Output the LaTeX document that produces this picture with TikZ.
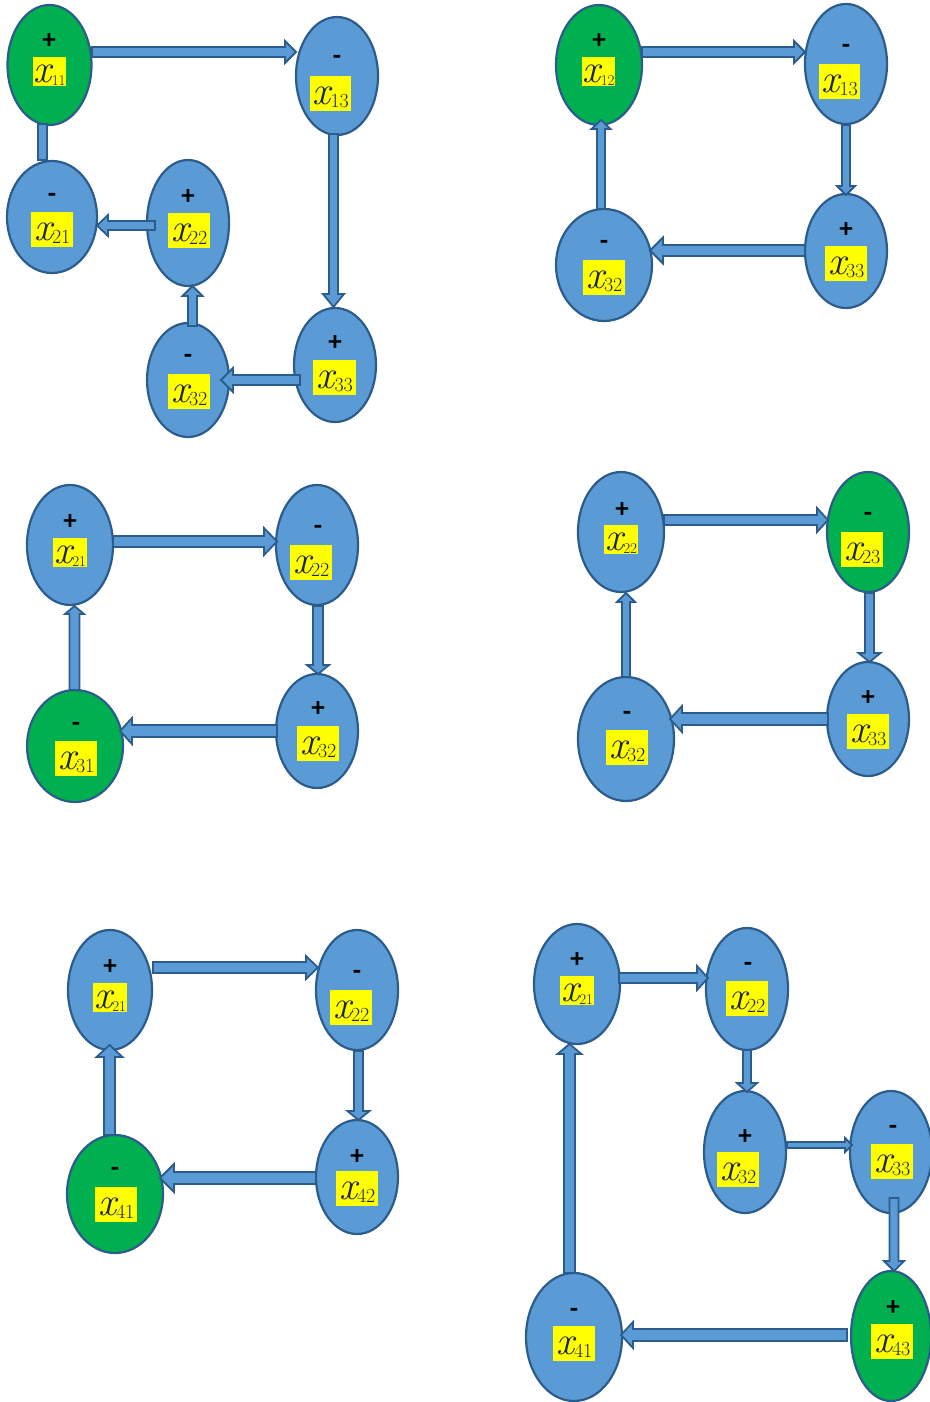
\documentclass[tikz,border=0pt]{standalone}
\usepackage{fontspec}
\usetikzlibrary{calc,shapes.geometric}
\newfontfamily\signfont{Carlito}
\definecolor{ellblue}{HTML}{5B9BD5}
\definecolor{ellgreen}{HTML}{00B050}
\definecolor{edge}{HTML}{2C5C8C}
\definecolor{labyellow}{HTML}{FFFF00}
\definecolor{labtext}{HTML}{1C2548}
\tikzset{
  ell/.style={ellipse, draw=edge, line width=2.2pt, fill=ellblue, inner sep=0pt, outer sep=0pt},
  gell/.style={ell, fill=ellgreen},
  blkarr/.style={draw=edge, fill=ellblue, line width=1.8pt, line join=miter},
  sgn/.style={inner sep=0pt, font=\signfont\bfseries\fontsize{27}{27}\selectfont, text=black},
  labbox/.style={fill=labyellow, inner sep=0pt, text=labtext, anchor=north west},
  labsmall/.style={labbox, text height=25pt, text depth=4pt},
  labbig/.style={labbox, text height=28pt, text depth=7pt}
}
% block arrow: start, end, shaft half width, head half width, head length
\newcommand\blkarrow[5]{%
  \filldraw[blkarr] let \p1=#1, \p2=#2,
    \n1={veclen(\x2-\x1,\y2-\y1)}, \n2={atan2(\y2-\y1,\x2-\x1)} in
    [shift={(\p1)}, rotate=\n2]
    (0,#3) -- ({\n1-#5},#3) -- ({\n1-#5},#4) -- (\n1,0) -- ({\n1-#5},-#4)
    -- ({\n1-#5},-#3) -- (0,-#3) -- cycle;}
% ellipse: style, name, cx, cy, rx, ry
\newcommand\mkell[6]{\node[#1, minimum width={2*#5}, minimum height={2*#6}] (#2) at (#3,#4) {};}
% sign: name, x, y, text
\newcommand\mksign[4]{\node[sgn] (#1) at (#2,#3) {#4};}
% label: name, x1, y1, x2, y2, subscript, subscript size
\newcommand\mklab[7]{%
  \ifnum#7<18 \def\labsty{labsmall}\else\def\labsty{labbig}\fi
  \node[\labsty, minimum width={#4-#2}, minimum height={#5-#3}] (#1) at (#2,#3)
  {{\fontsize{40}{40}\selectfont\itshape x}\raisebox{-3pt}{\fontsize{#7}{#7}\selectfont #6}};}
\begin{document}
\begin{tikzpicture}[x=1pt,y=-1pt]
\useasboundingbox (0,0) rectangle (929,1402);
% ---------- panel 1 ----------
\mkell{gell}{A11}{49.5}{65}{42}{60}
\mkell{ell}{A13}{337}{76}{41}{59}
\mkell{ell}{A21}{52}{217}{45}{56}
\mkell{ell}{A22}{188}{223}{41}{63}
\mkell{ell}{A32}{188}{380}{41}{57}
\mkell{ell}{A33}{335}{365}{41}{57}
\blkarrow{($(A11)+(42.5,-13)$)}{($(A13)+(-41,-24)$)}{5}{11}{11}
\blkarrow{($(A21)+(-9.5,-57)$)}{($(A11)+(-7,59)$)}{4.5}{4.5}{0}
\blkarrow{($(A22)+(-33,2.5)$)}{($(A21)+(45,8.5)$)}{4.5}{10.5}{11}
\blkarrow{($(A32)+(4.5,-54)$)}{($(A22)+(4.5,63)$)}{4.5}{10}{10}
\blkarrow{($(A13)+(-3.5,58)$)}{($(A33)+(-1.5,-58)$)}{4.5}{10.5}{13}
\blkarrow{($(A33)+(-35,15)$)}{($(A32)+(33,0)$)}{5}{12}{12}
\mksign{sA11}{49}{41}{+}
\mksign{sA13}{337}{60}{-}
\mksign{sA21}{52}{198}{-}
\mksign{sA22}{188}{197}{+}
\mksign{sA32}{188}{359}{-}
\mksign{sA33}{335}{343}{+}
\mklab{lA11}{33}{57}{66}{86}{11}{15}
\mklab{lA13}{310}{76}{351}{111}{13}{20}
\mklab{lA21}{31}{212}{73}{247}{21}{20}
\mklab{lA22}{168}{213}{210}{248}{22}{20}
\mklab{lA32}{168}{374}{210}{409}{32}{20}
\mklab{lA33}{313}{360}{356}{395}{33}{20}
% ---------- panel 2 ----------
\mkell{gell}{B12}{599}{65}{43}{60}
\mkell{ell}{B13}{846}{64}{41}{60}
\mkell{ell}{B32}{604}{265}{48}{56}
\mkell{ell}{B33}{846}{251}{41}{57}
\blkarrow{($(B12)+(43,-13)$)}{($(B13)+(-41,-12)$)}{5}{11}{11}
\blkarrow{($(B13)+(0,61)$)}{($(B33)+(0,-56)$)}{4}{9}{9}
\blkarrow{($(B33)+(-41,-0.5)$)}{($(B32)+(46,-14.5)$)}{5.5}{13}{13}
\blkarrow{($(B32)+(-3,-56)$)}{($(B12)+(2,55)$)}{4}{9.5}{9}
\mksign{sB12}{599}{41}{+}
\mksign{sB13}{846}{49}{-}
\mksign{sB32}{604}{245}{-}
\mksign{sB33}{846}{230}{+}
\mklab{lB12}{582}{57}{615}{86}{12}{15}
\mklab{lB13}{819}{64}{860}{99}{13}{20}
\mklab{lB32}{583}{260}{625}{295}{32}{20}
\mklab{lB33}{825}{246}{867}{281}{33}{20}
% ---------- panel 3 ----------
\mkell{ell}{C21}{70}{545}{43}{60}
\mkell{ell}{C22}{317}{545}{41}{60}
\mkell{gell}{C31}{75}{746}{48}{56}
\mkell{ell}{C32}{317}{731}{41}{57}
\blkarrow{($(C21)+(43,-3.5)$)}{($(C22)+(-40,-3.5)$)}{5.5}{13.5}{13}
\blkarrow{($(C22)+(1,61)$)}{($(C32)+(1,-57)$)}{5}{11}{9}
\blkarrow{($(C32)+(-40,0)$)}{($(C31)+(45,-15)$)}{6}{13}{12}
\blkarrow{($(C31)+(-0.5,-56)$)}{($(C21)+(4.5,61)$)}{5}{9.5}{8}
\mksign{sC21}{70}{522}{+}
\mksign{sC22}{318}{530}{-}
\mksign{sC31}{76}{727}{-}
\mksign{sC32}{318}{709}{+}
\mklab{lC21}{53}{538}{87}{567}{21}{15}
\mklab{lC22}{290}{545}{332}{580}{22}{20}
\mklab{lC31}{55}{741}{97}{776}{31}{20}
\mklab{lC32}{297}{726}{339}{761}{32}{20}
% ---------- panel 4 ----------
\mkell{ell}{D22}{621}{532}{43}{60}
\mkell{gell}{D23}{868}{532}{41}{60}
\mkell{ell}{D32}{626}{739}{48}{62}
\mkell{ell}{D33}{868}{719}{41}{57}
\blkarrow{($(D22)+(43,-12)$)}{($(D23)+(-40,-12)$)}{5}{12}{11}
\blkarrow{($(D23)+(1.5,61)$)}{($(D33)+(1.5,-57)$)}{4.5}{11}{9}
\blkarrow{($(D33)+(-40,0)$)}{($(D32)+(44,-20)$)}{6}{13}{12}
\blkarrow{($(D32)+(0,-62)$)}{($(D22)+(5,61)$)}{4}{9}{9}
\mksign{sD22}{622}{510}{+}
\mksign{sD23}{868}{517}{-}
\mksign{sD32}{627}{716}{-}
\mksign{sD33}{868}{698}{+}
\mklab{lD22}{604}{525}{638}{554}{22}{15}
\mklab{lD23}{841}{532}{883}{567}{23}{20}
\mklab{lD32}{606}{730}{648}{765}{32}{20}
\mklab{lD33}{847}{714}{889}{749}{33}{20}
% ---------- panel 5 ----------
\mkell{ell}{E21}{110}{990}{42}{60}
\mkell{ell}{E22}{357}{990}{41}{60}
\mkell{gell}{E41}{115}{1194}{48}{59}
\mkell{ell}{E42}{357}{1177}{41}{57}
\blkarrow{($(E21)+(43,-22.5)$)}{($(E22)+(-39,-22.5)$)}{5.5}{11.5}{12}
\blkarrow{($(E22)+(1.5,61)$)}{($(E42)+(1.5,-57)$)}{4.5}{11}{9}
\blkarrow{($(E42)+(-41,1)$)}{($(E41)+(45,-16)$)}{6}{14}{14}
\blkarrow{($(E41)+(-5.5,-59)$)}{($(E21)+(-0.5,55)$)}{5.5}{13}{12}
\mksign{sE21}{110}{967}{+}
\mksign{sE22}{357}{975}{-}
\mksign{sE41}{115}{1172}{-}
\mksign{sE42}{357}{1157}{+}
\mklab{lE21}{93}{983}{127}{1012}{21}{15}
\mklab{lE22}{330}{990}{372}{1025}{22}{20}
\mklab{lE41}{95}{1187}{137}{1222}{41}{20}
\mklab{lE42}{336}{1171}{378}{1206}{42}{20}
% ---------- panel 6 ----------
\mkell{ell}{F21}{577}{984}{43}{60}
\mkell{ell}{F22}{747}{989}{41}{61}
\mkell{ell}{F32}{745}{1152}{41}{61}
\mkell{ell}{F33}{891}{1152}{41}{61}
\mkell{ell}{F41}{574}{1337}{48}{64}
\mkell{gell}{F43}{891}{1336}{40}{65}
\blkarrow{($(F21)+(42,-6)$)}{($(F22)+(-39,-11)$)}{5}{12}{11}
\blkarrow{($(F22)+(0,61)$)}{($(F32)+(2,-60)$)}{4}{10}{9}
\blkarrow{($(F32)+(42,-7)$)}{($(F33)+(-39,-7)$)}{3}{7}{7}
\blkarrow{($(F33)+(3,46)$)}{($(F43)+(3,-65)$)}{4.5}{10}{10}
\blkarrow{($(F43)+(-44,-1)$)}{($(F41)+(47,-2)$)}{6}{13}{12}
\blkarrow{($(F41)+(-4.5,-64)$)}{($(F21)+(-7.5,60)$)}{5.5}{12}{10}
\mksign{sF21}{577}{960}{+}
\mksign{sF22}{748}{967}{-}
\mksign{sF32}{745}{1137}{+}
\mksign{sF33}{893}{1130}{-}
\mksign{sF41}{574}{1313}{-}
\mksign{sF43}{893}{1308}{+}
\mklab{lF21}{560}{976}{594}{1005}{21}{15}
\mklab{lF22}{726}{981}{768}{1016}{22}{20}
\mklab{lF32}{717}{1152}{759}{1187}{32}{20}
\mklab{lF33}{871}{1144}{913}{1179}{33}{20}
\mklab{lF41}{553}{1326}{595}{1361}{41}{20}
\mklab{lF43}{871}{1324}{913}{1359}{43}{20}
\end{tikzpicture}
\end{document}
